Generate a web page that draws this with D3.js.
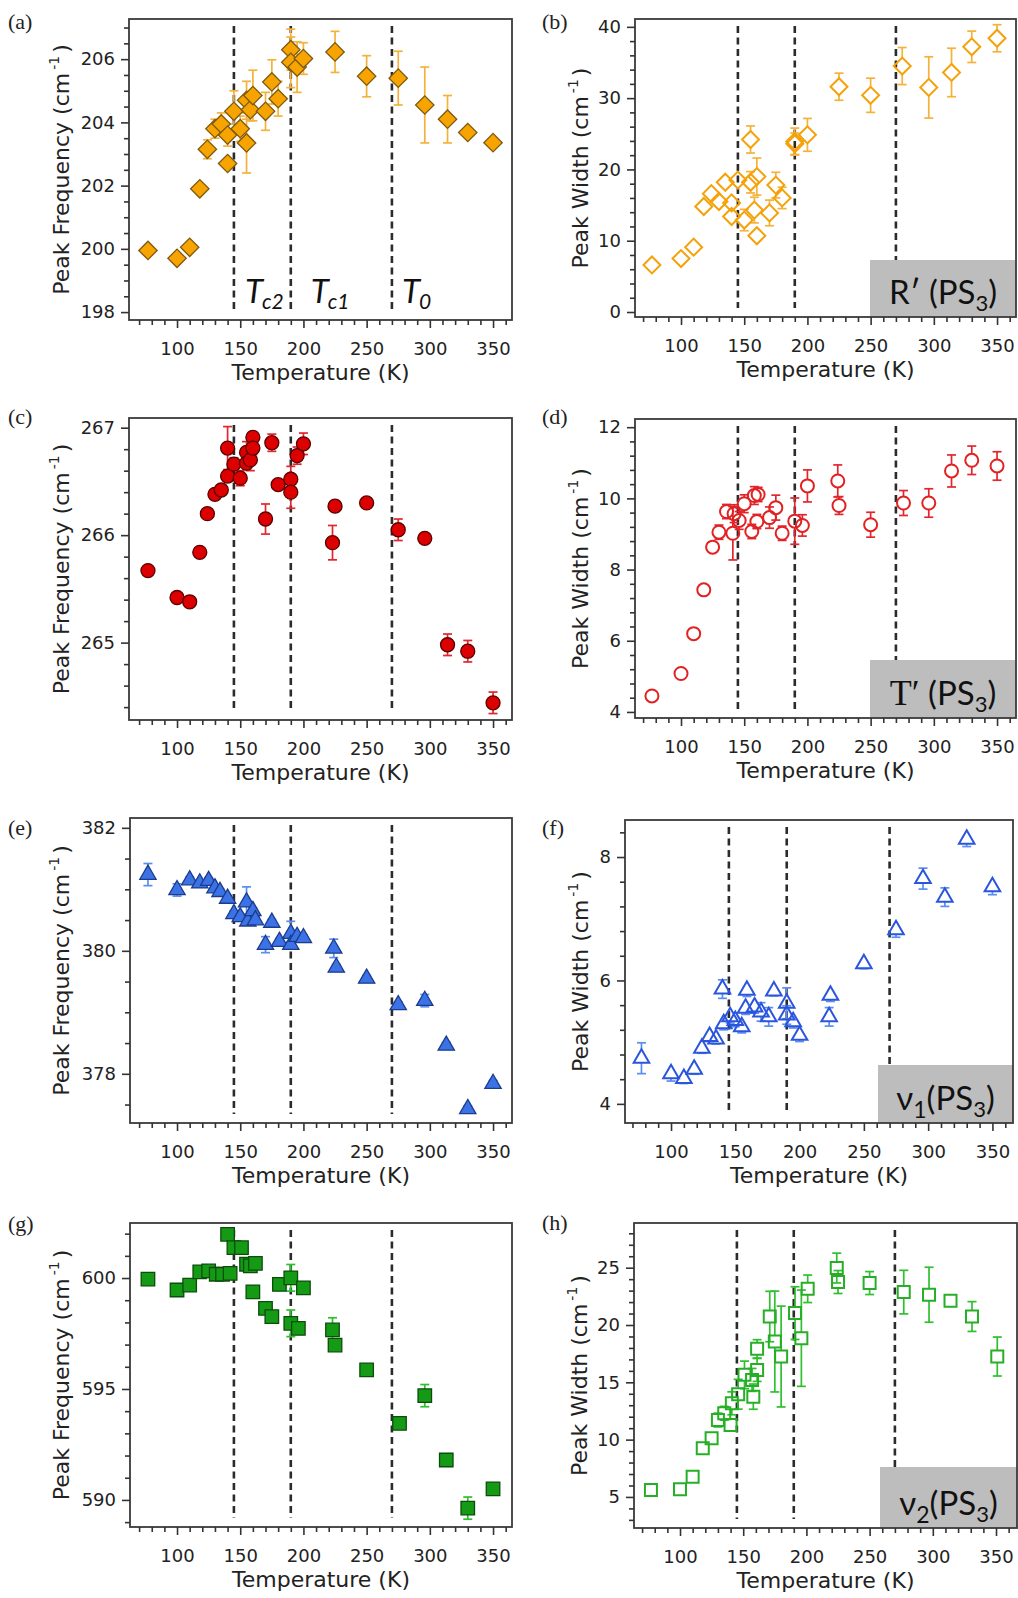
<!DOCTYPE html>
<html>
<head>
<meta charset="utf-8">
<script src="https://cdn.jsdelivr.net/npm/d3@7"></script>
<style>
  body { margin: 0; background: #fff; }
  svg { display: block; }
</style>
</head>
<body>
<svg id="chart"></svg>
<script>
// ---- data: [temperature (K), value, error] ----
const transitionTemps = [145, 190, 270];
const tempTicks = [100, 150, 200, 250, 300, 350];

const rFreq = [[77,199.95,0.1],[100,199.7,0.1],[110,200.05,0.1],[118,201.9,0.1],[124,203.15,0.3],[130,203.8,0.3],
  [135,203.95,0.35],[140,203.6,0.35],[140,202.7,0.15],[145,204.35,0.65],[150,203.8,0.4],[155,204.7,0.6],
  [155,203.35,0.95],[158,204.4,0.35],[160,204.85,0.8],[170,204.35,0.6],[175,205.28,0.7],[180,204.75,0.55],
  [190,206.3,0.65],[190,205.9,0.8],[195,205.75,0.8],[200,206.02,0.5],[225,206.23,0.65],[250,205.46,0.65],
  [275,205.4,0.85],[296,204.55,1.2],[314,204.1,0.75],[330,203.68,0.1],[350,203.36,0.1]];

const rWidth = [[77,6.6,0.3],[100,7.5,0.3],[110,9.1,0.3],[118,14.8,0.4],[124,16.6,0.4],[130,15.5,0.5],
  [135,18.2,0.5],[140,13.4,0.8],[140,15.3,0.6],[145,18.5,0.8],[150,12.9,1.5],[155,24.2,1.9],[155,18.2,1.5],
  [158,14.3,1.8],[160,19.0,2.6],[160,10.7,0.8],[170,13.9,1.8],[175,17.8,1.8],[180,16.0,1.5],[190,23.9,1.9],
  [190,23.6,1.5],[200,24.85,2.3],[225,31.6,1.9],[250,30.4,2.4],[275,34.5,2.6],[296,31.5,4.3],[314,33.6,3.4],
  [330,37.2,2.2],[350,38.4,1.9]];

const tFreq = [[77,265.67,0.03],[100,265.42,0.03],[110,265.38,0.03],[118,265.84,0.03],[124,266.2,0.03],
  [130,266.38,0.03],[135,266.42,0.03],[140,266.81,0.2],[140,266.55,0.05],[145,266.66,0.06],[150,266.53,0.07],
  [155,266.77,0.1],[155,266.67,0.06],[158,266.7,0.1],[160,266.91,0.05],[160,266.81,0.06],[170,266.15,0.14],
  [175,266.86,0.08],[180,266.47,0.04],[190,266.52,0.12],[190,266.4,0.15],[195,266.74,0.08],[200,266.85,0.1],
  [223,265.93,0.16],[225,266.27,0.05],[250,266.3,0.04],[275,266.05,0.1],[296,265.97,0.03],[314,264.98,0.1],
  [330,264.92,0.1],[350,264.44,0.1]];

const tWidth = [[77,4.45,0.05],[100,5.08,0.05],[110,6.2,0.05],[118,7.43,0.05],[125,8.63,0.1],[130,9.05,0.2],
  [136,9.63,0.2],[141,9.02,0.75],[142,9.57,0.25],[146,9.38,0.25],[150,9.85,0.25],[156,9.07,0.2],[158,10.08,0.25],
  [161,10.11,0.2],[160,9.35,0.2],[170,9.46,0.3],[175,9.74,0.35],[180,9.02,0.2],[190,9.36,0.65],[196,9.24,0.3],
  [200,10.35,0.45],[224,10.49,0.45],[225,9.8,0.25],[250,9.26,0.35],[276,9.87,0.35],[296,9.87,0.4],
  [314,10.77,0.45],[330,11.07,0.4],[350,10.91,0.4]];

const v1Freq = [[77,381.24,0.18],[100,380.99,0.1],[110,381.15,0.05],[118,381.1,0.05],[125,381.14,0.05],
  [130,381.02,0.05],[134,380.96,0.05],[140,380.85,0.05],[145,380.6,0.05],[150,380.55,0.05],[155,380.79,0.25],
  [156,380.48,0.05],[160,380.65,0.05],[162,380.5,0.05],[170,380.1,0.13],[175,380.46,0.05],[181,380.15,0.05],
  [190,380.28,0.2],[190,380.1,0.05],[195,380.23,0.05],[200,380.21,0.05],[224,380.04,0.15],[226,379.73,0.05],
  [250,379.55,0.05],[275,379.12,0.05],[296,379.19,0.1],[313,378.46,0.05],[330,377.43,0.05],[350,377.84,0.05]];

const v1Width = [[77,4.74,0.25],[100,4.49,0.12],[110,4.41,0.08],[118,4.56,0.08],[124,4.9,0.08],[130,5.09,0.08],
  [135,5.05,0.08],[140,5.86,0.15],[141,5.3,0.1],[146,5.41,0.1],[150,5.35,0.1],[155,5.25,0.1],[158,5.55,0.1],
  [159,5.84,0.1],[165,5.57,0.1],[170,5.49,0.15],[176,5.41,0.15],[180,5.83,0.08],[190,5.63,0.25],[190,5.44,0.15],
  [195,5.33,0.1],[200,5.11,0.1],[224,5.76,0.1],[223,5.41,0.15],[250,6.27,0.08],[275,6.82,0.12],[296,7.65,0.17],
  [313,7.35,0.15],[330,8.29,0.12],[350,7.52,0.13]];

const v2Freq = [[77,599.95,0.1],[100,599.46,0.1],[110,599.68,0.1],[118,600.28,0.1],[125,600.32,0.1],
  [131,600.17,0.1],[136,600.17,0.1],[142,600.21,0.1],[140,601.97,0.1],[145,601.37,0.1],[151,601.37,0.1],
  [155,600.62,0.1],[158,600.55,0.1],[162,600.66,0.1],[160,599.38,0.1],[170,598.63,0.1],[175,598.26,0.1],
  [181,599.71,0.1],[190,600.01,0.6],[190,597.96,0.6],[196,597.73,0.1],[200,599.56,0.1],[223,597.66,0.55],
  [225,596.98,0.1],[250,595.86,0.1],[276,593.45,0.2],[296,594.7,0.5],[313,591.8,0.2],[330,589.63,0.5],
  [350,590.5,0.1]];

const v2Width = [[77,5.6,0.2],[100,5.68,0.2],[110,6.76,0.2],[118,9.24,0.2],[125,10.11,0.2],[130,11.71,0.6],
  [135,12.3,0.6],[140,11.28,0.5],[141,13.17,1.0],[146,13.96,1.3],[151,15.65,1.2],[157,15.21,1.0],[158,13.75,1.1],
  [161,16.08,1.0],[161,17.92,0.8],[171,20.74,2.2],[175,18.56,4.4],[180,17.25,4.4],[191,21.04,2.3],[196,18.85,4.2],
  [201,23.16,1.2],[224,24.97,1.3],[225,23.75,1.0],[250,23.66,1.0],[277,22.87,1.9],[297,22.64,2.4],
  [314,22.11,0.3],[331,20.74,1.3],[351,17.25,1.7]];

// tick labels
const ticksA = [198, 200, 202, 204, 206];
const ticksB = [0, 10, 20, 30, 40];
const ticksC = [265, 266, 267];
const ticksD = [4, 6, 8, 10, 12];
const ticksE = [378, 380, 382];
const ticksF = [4, 6, 8];
const ticksG = [590, 595, 600];
const ticksH = [5, 10, 15, 20, 25];

// mode names in the grey boxes
const modeNames = ['R\u2032', 'T\u2032', '\u03BD', '\u03BD'];

// ---- styles ----
const palette = {
  orange: { fill: '#f7a400', edge: '#7d5a12', err: '#f4b23a', open: '#f5a20a' },
  red:    { fill: '#dc0000', edge: '#5a0000', err: '#e2262e', open: '#e22222' },
  blue:   { fill: '#3b73e6', edge: '#1c3b8c', err: '#5a8ef0', open: '#2a55dd' },
  green:  { fill: '#159a15', edge: '#0b4d0b', err: '#2fbf2f', open: '#27ae27' }
};

const panels = [
  { tag: '(a)', data: rFreq, rect: [129, 19, 512, 320], xDom: [62, 365], yDom: [197.75, 207.27], ticks: ticksA, minor: 0.5,
    shape: 'diamond', open: false, color: palette.orange, title: 'Peak Frequency', titleOff: 60, tagPos: [8, 29] },
  { tag: '(b)', data: rWidth, rect: [635, 19, 1016, 317], xDom: [63.6, 365], yDom: [-0.7, 41.1], ticks: ticksB, minor: 2,
    shape: 'diamond', open: true, color: palette.orange, title: 'Peak Width', titleOff: 47, tagPos: [542, 29],
    mode: 0, box: [146, 57] },
  { tag: '(c)', data: tFreq, rect: [129, 418, 512, 720], xDom: [62, 365], yDom: [264.28, 267.09], ticks: ticksC, minor: 0.2,
    shape: 'circle', open: false, color: palette.red, title: 'Peak Frequency', titleOff: 60, tagPos: [8, 424] },
  { tag: '(d)', data: tWidth, rect: [635, 419, 1016, 718], xDom: [63.6, 365], yDom: [3.83, 12.23], ticks: ticksD, minor: 0.4,
    shape: 'circle', open: true, color: palette.red, title: 'Peak Width', titleOff: 47, tagPos: [542, 424],
    mode: 1, box: [146, 58] },
  { tag: '(e)', data: v1Freq, rect: [130, 818, 512, 1123], xDom: [62.8, 365], yDom: [377.2, 382.16], ticks: ticksE, minor: 0.5,
    shape: 'triangle', open: false, color: palette.blue, title: 'Peak Frequency', titleOff: 61, tagPos: [8, 835] },
  { tag: '(f)', data: v1Width, rect: [625, 820, 1013, 1123], xDom: [64.2, 366], yDom: [3.69, 8.6], ticks: ticksF, minor: 0.4,
    shape: 'triangle', open: true, color: palette.blue, title: 'Peak Width', titleOff: 37, tagPos: [542, 835],
    mode: 2, sub: '1', box: [135, 58] },
  { tag: '(g)', data: v2Freq, rect: [130, 1223, 512, 1527], xDom: [62.8, 365], yDom: [588.78, 602.48], ticks: ticksG, minor: 1,
    shape: 'square', open: false, color: palette.green, title: 'Peak Frequency', titleOff: 61, tagPos: [8, 1231] },
  { tag: '(h)', data: v2Width, rect: [634, 1223, 1017, 1528], xDom: [63.6, 366.6], yDom: [2.29, 28.9], ticks: ticksH, minor: 1,
    shape: 'square', open: true, color: palette.green, title: 'Peak Width', titleOff: 47, tagPos: [542, 1230],
    mode: 3, sub: '2', box: [137, 61] }
];

const sansFont = '"DejaVu Sans", sans-serif';
const labelFont = 'Lato, "Open Sans", sans-serif';

const svg = d3.select('#chart').attr('width', 1018).attr('height', 1598);

// marker shapes: symbol type, area, extent above and below centre
function markerSpec(shape, open) {
  if (shape === 'diamond') { let s = open ? 12 : 13; return { type: d3.symbolSquare, size: s * s, rot: 45, up: s / Math.SQRT2, down: s / Math.SQRT2 }; }
  if (shape === 'circle') { let r = open ? 6.5 : 7; return { type: d3.symbolCircle, size: Math.PI * r * r, rot: 0, up: r, down: r }; }
  if (shape === 'triangle') { let a = open ? 105 : 115, h = Math.sqrt(a / (Math.sqrt(3) * 3)); return { type: d3.symbolTriangle, size: a, rot: 0, up: 2 * h, down: h }; }
  let s = open ? 12 : 13.5;
  return { type: d3.symbolSquare, size: s * s, rot: 0, up: s / 2, down: s / 2 };
}

function minorValues(dom, step, majors) {
  let out = [];
  let start = Math.ceil(dom[0] / step);
  let end = Math.floor(dom[1] / step);
  for (let i = start; i <= end; i++) {
    let v = +(i * step).toFixed(4);
    if (!majors.some(m => Math.abs(m - v) < 1e-6)) out.push(v);
  }
  return out;
}

function drawPanel(p) {
  let [x0, y0, x1, y1] = p.rect;
  let x = d3.scaleLinear().domain(p.xDom).range([x0, x1]);
  let y = d3.scaleLinear().domain(p.yDom).range([y1, y0]);
  let g = svg.append('g');

  // dashed transition lines
  g.selectAll('.tline').data(transitionTemps).enter().append('line')
    .attr('x1', d => x(d)).attr('x2', d => x(d))
    .attr('y1', y0 + 7).attr('y2', y1 - 9)
    .attr('stroke', '#2b2b2b').attr('stroke-width', 2.6)
    .attr('stroke-dasharray', '7,4.5');

  // grey mode box
  if (p.box) {
    let [bw, bh] = p.box;
    g.append('rect').attr('x', x1 - bw).attr('y', y1 - bh).attr('width', bw).attr('height', bh)
      .attr('fill', '#bdbdbd');
    let t = g.append('text').attr('x', x1 - bw / 2).attr('y', y1 - 13)
      .attr('text-anchor', 'middle').attr('font-family', labelFont).attr('font-size', 33).attr('fill', '#111');
    if (p.mode === 1) {
      t.append('tspan').attr('font-family', '"Liberation Serif", serif').attr('font-size', 36).text(modeNames[p.mode]);
    } else {
      t.append('tspan').text(modeNames[p.mode]);
    }
    if (p.sub) {
      t.append('tspan').attr('font-size', 23).attr('dy', 8).text(p.sub);
      t.append('tspan').attr('dy', -8).text('(PS');
    } else {
      t.append('tspan').text(' (PS');
    }
    t.append('tspan').attr('font-size', 22).attr('dy', 7).text('3');
    t.append('tspan').attr('dy', -7).text(')');
  }

  let m = markerSpec(p.shape, p.open);
  let sym = d3.symbol().type(m.type).size(m.size);

  // error bars (for hollow markers nothing is drawn inside the marker)
  let capW = 4.5;
  p.data.forEach(d => {
    let cx = x(d[0]), cy = y(d[1]);
    let top = y(d[1] + d[2]), bot = y(d[1] - d[2]);
    let segs = p.open ? [[top, cy - m.up], [cy + m.down, bot]] : [[top, bot]];
    segs.forEach(s => {
      if (s[1] - s[0] > 0.5) {
        g.append('line').attr('x1', cx).attr('x2', cx).attr('y1', s[0]).attr('y2', s[1])
          .attr('stroke', p.color.err).attr('stroke-width', 1.7);
      }
    });
    [top, bot].forEach(v => {
      let inside = p.open && v > cy - m.up && v < cy + m.down;
      if (inside) return;
      g.append('line').attr('x1', cx - capW).attr('x2', cx + capW).attr('y1', v).attr('y2', v)
        .attr('stroke', p.color.err).attr('stroke-width', 1.7);
    });
  });

  // markers
  g.selectAll('.pt').data(p.data).enter().append('path')
    .attr('d', sym)
    .attr('transform', d => `translate(${x(d[0])},${y(d[1])}) rotate(${m.rot})`)
    .attr('fill', p.open ? 'none' : p.color.fill)
    .attr('stroke', p.open ? p.color.open : p.color.edge)
    .attr('stroke-width', p.open ? 2 : 1.3);

  // frame
  g.append('rect').attr('x', x0).attr('y', y0).attr('width', x1 - x0).attr('height', y1 - y0)
    .attr('fill', 'none').attr('stroke', '#3a3a3a').attr('stroke-width', 1.8);

  // axes
  let styleAxis = sel => {
    sel.select('.domain').remove();
    sel.selectAll('line').attr('stroke', '#333').attr('stroke-width', 1.6);
    sel.selectAll('text').attr('font-family', sansFont).attr('font-size', 18).attr('fill', '#222');
  };
  g.append('g').attr('transform', `translate(${x0},0)`)
    .call(d3.axisLeft(y).tickValues(p.ticks).tickSize(8).tickPadding(6).tickFormat(d3.format('d')))
    .call(styleAxis);
  g.append('g').attr('transform', `translate(${x0},0)`)
    .call(d3.axisLeft(y).tickValues(minorValues(p.yDom, p.minor, p.ticks)).tickSize(5).tickFormat(''))
    .call(styleAxis);
  g.append('g').attr('transform', `translate(0,${y1})`)
    .call(d3.axisBottom(x).tickValues(tempTicks).tickSize(8).tickPadding(14).tickFormat(d3.format('d')))
    .call(styleAxis);
  g.append('g').attr('transform', `translate(0,${y1})`)
    .call(d3.axisBottom(x).tickValues(minorValues(p.xDom, 10, tempTicks)).tickSize(5).tickFormat(''))
    .call(styleAxis);

  // axis titles
  g.append('text').attr('x', (x0 + x1) / 2).attr('y', y1 + 60)
    .attr('text-anchor', 'middle').attr('font-family', sansFont).attr('font-size', 22).attr('fill', '#222')
    .text('Temperature (K)');
  let yt = g.append('text')
    .attr('transform', `translate(${x0 - p.titleOff},${(y0 + y1) / 2}) rotate(-90)`)
    .attr('text-anchor', 'middle').attr('font-family', sansFont).attr('font-size', 22).attr('fill', '#222');
  yt.append('tspan').text(p.title + ' (cm');
  yt.append('tspan').attr('font-size', 14).attr('dx', 3).attr('dy', -10).text('-1');
  yt.append('tspan').attr('dx', 3).attr('dy', 10).text(')');

  // panel tag
  svg.append('text').attr('x', p.tagPos[0]).attr('y', p.tagPos[1])
    .attr('font-family', '"Liberation Serif", serif').attr('font-size', 22).attr('fill', '#222')
    .text(p.tag);

  return { x, y };
}

let scalesA = null;
panels.forEach((p, i) => {
  let s = drawPanel(p);
  if (i === 0) scalesA = s;
});

// transition labels in panel (a)
const transitionNames = [['T', 'c2'], ['T', 'c1'], ['T', '0']];
const labelShift = [11, 20, 10];
transitionNames.forEach((n, i) => {
  let t = svg.append('text')
    .attr('x', scalesA.x(transitionTemps[i]) + labelShift[i])
    .attr('y', 303)
    .attr('font-family', labelFont).attr('font-style', 'italic').attr('font-size', 33).attr('fill', '#111');
  t.append('tspan').text(n[0]);
  t.append('tspan').attr('font-size', 21).attr('dx', -1).attr('dy', 6).text(n[1]);
});
</script>
</body>
</html>
